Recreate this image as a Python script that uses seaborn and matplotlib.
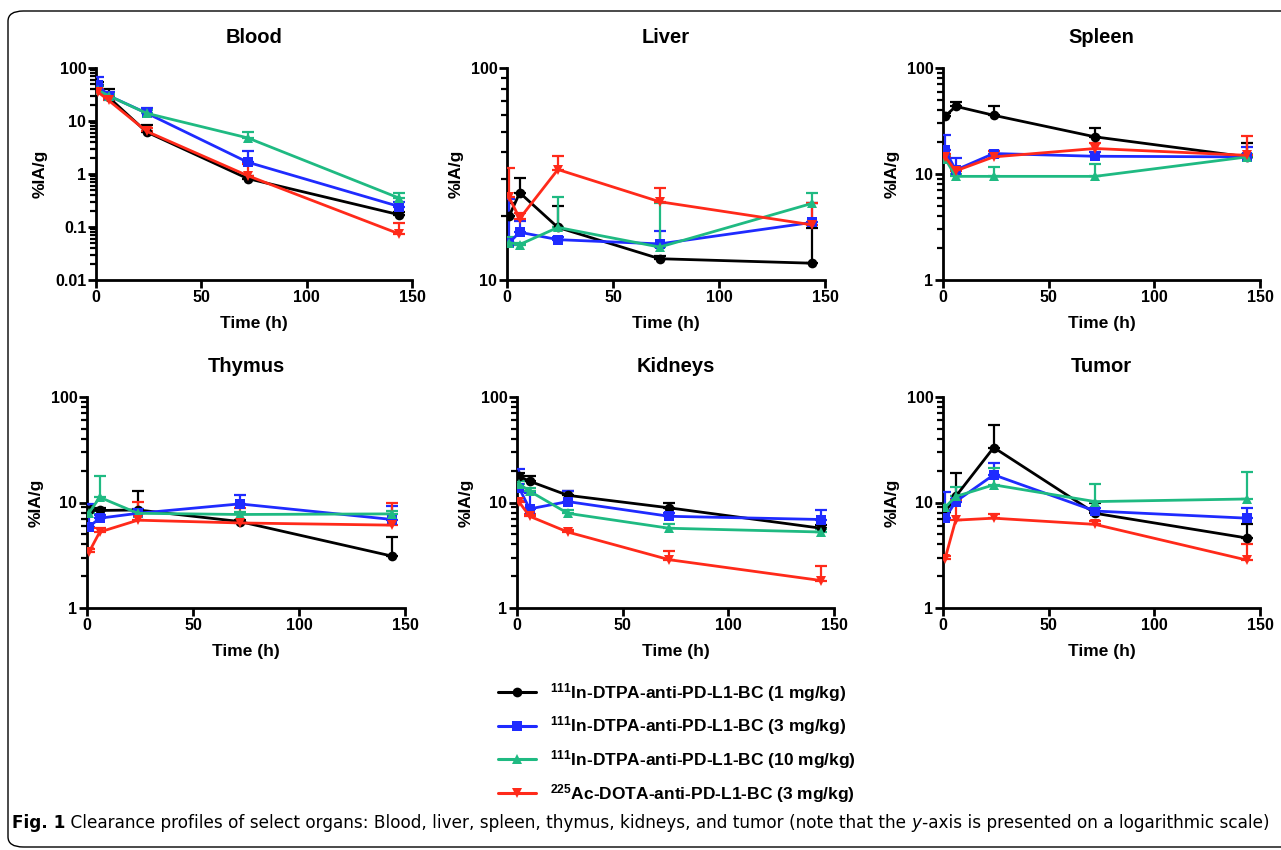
import matplotlib
matplotlib.use("Agg")
import matplotlib.pyplot as plt
import matplotlib.ticker as mticker
from matplotlib.patches import FancyBboxPatch
from matplotlib.lines import Line2D
import numpy as np
import pandas as pd
import seaborn as sns

# ---------------- data ----------------
times = [1, 6, 24, 72, 144]
series = ["1 mg/kg In", "3 mg/kg In", "10 mg/kg In", "3 mg/kg Ac"]
legend_labels = [
    r"$^{111}$In-DTPA-anti-PD-L1-BC (1 mg/kg)",
    r"$^{111}$In-DTPA-anti-PD-L1-BC (3 mg/kg)",
    r"$^{111}$In-DTPA-anti-PD-L1-BC (10 mg/kg)",
    r"$^{225}$Ac-DOTA-anti-PD-L1-BC (3 mg/kg)",
]
organs = ["Blood", "Liver", "Spleen", "Thymus", "Kidneys", "Tumor"]

# rows = series (black, blue, green, red); cols = times
blood_mean = [[47, 28, 6.2, 0.82, 0.17],
              [47, 30, 14.1, 1.67, 0.243],
              [38, 30, 14, 4.8, 0.35],
              [35, 24.5, 6.4, 0.93, 0.074]]
blood_err = [[8, 12, 2.1, 0.1, 0.02],
             [20, 5, 3.7, 1.1, 0.05],
             [7, 3, 2, 1.3, 0.09],
             [5, 2.5, 1.1, 0.63, 0.044]]

liver_mean = [[20, 25.8, 17.7, 12.6, 12.0],
              [15.0, 16.8, 15.5, 14.8, 18.7],
              [15, 14.7, 17.7, 14.3, 23],
              [24.5, 19.5, 33.2, 23.4, 18.2]]
liver_err = [[3, 4.6, 4.7, 0.4, 5.5],
             [9, 2.2, 0.5, 2.3, 4.3],
             [1, 0.3, 7, 8.7, 2.8],
             [9.4, 1.3, 5.2, 3.7, 4.8]]

spleen_mean = [[35, 43.5, 35.8, 22.4, 14.5],
               [16.8, 10.9, 15.6, 14.7, 14.5],
               [14, 9.5, 9.5, 9.5, 14.5],
               [14.5, 10.7, 14.5, 17.4, 15.0]]
spleen_err = [[3, 4, 8.2, 4.5, 4.9],
              [6.5, 3.4, 0.9, 1.5, 3.5],
              [1, 0.5, 2.2, 2.9, 1],
              [1, 0.5, 1.9, 2.4, 7.7]]

thymus_mean = [[8.4, 8.4, 8.5, 6.6, 3.1],
               [5.9, 7.1, 7.9, 9.7, 6.9],
               [8.0, 11.2, 7.9, 7.7, 7.8],
               [3.4, 5.25, 6.8, 6.4, 6.1]]
thymus_err = [[1.1, 0.5, 4.4, 0.3, 1.6],
              [3.8, 0.5, 0.8, 2.0, 2.3],
              [0.5, 6.5, 0.5, 0.4, 0.5],
              [0.2, 0.5, 3.4, 2.5, 3.9]]

kidneys_mean = [[17.7, 15.9, 11.7, 8.9, 5.7],
                [13.7, 8.7, 10.2, 7.4, 6.9],
                [15, 12.8, 7.9, 5.7, 5.25],
                [10.1, 7.4, 5.25, 2.87, 1.82]]
kidneys_err = [[1.5, 1.8, 1.2, 1.0, 0.4],
               [7.2, 3.6, 2.6, 0.6, 1.5],
               [1, 0.8, 0.6, 0.6, 0.3],
               [0.3, 0.3, 0.2, 0.58, 0.68]]

tumor_mean = [[8.2, 11.4, 33.2, 7.9, 4.6],
              [7.1, 10.2, 18.3, 8.3, 7.1],
              [9.0, 11.4, 14.7, 10.2, 10.8],
              [2.94, 6.8, 7.1, 6.2, 2.84]]
tumor_err = [[0.8, 7.5, 21.4, 1.9, 1.7],
             [5.6, 0.5, 5.2, 0.6, 1.8],
             [0.5, 2.7, 6.5, 4.7, 8.8],
             [0.2, 3.8, 0.7, 0.5, 1.16]]

blood_ticks = [0.01, 0.1, 1, 10, 100]
liver_ticks = [10, 100]
other_ticks = [1, 10, 100]
x_ticks = [0, 50, 100, 150]

caption_bold = "Fig. 1"
caption_text = (" Clearance profiles of select organs: Blood, liver, spleen, thymus, kidneys, "
                "and tumor (note that the ")
caption_italic = "y"
caption_end = "-axis is presented on a logarithmic scale)"

# ---------------- style ----------------
sns.set_style("ticks")
plt.rcParams["font.family"] = ["Liberation Sans", "DejaVu Sans"]
plt.rcParams["mathtext.default"] = "bf"
plt.rcParams["mathtext.fontset"] = "custom"
plt.rcParams["mathtext.bf"] = "Liberation Sans:bold"
plt.rcParams["font.weight"] = "bold"
for key in ["text.color", "axes.labelcolor", "xtick.color", "ytick.color", "axes.edgecolor"]:
    plt.rcParams[key] = "black"

colors = ["#000000", "#1f2bff", "#1fba82", "#ff2a1a"]
markers = ["o", "s", "^", "v"]
palette = dict(zip(series, colors))
marker_map = dict(zip(series, markers))

W, H = 1281, 850
fig = plt.figure(figsize=(W / 100, H / 100), dpi=100)

# axes boxes in pixels: left, right, top, bottom
boxes = [(96, 412, 68, 280), (507, 825, 68, 280), (943, 1260, 68, 280),
         (87, 405, 397, 608), (517, 834, 397, 608), (943, 1260, 397, 608)]
means = [blood_mean, liver_mean, spleen_mean, thymus_mean, kidneys_mean, tumor_mean]
errs = [blood_err, liver_err, spleen_err, thymus_err, kidneys_err, tumor_err]
yticks = [blood_ticks, liver_ticks, other_ticks, other_ticks, other_ticks, other_ticks]

for organ, box, mean, err, yt in zip(organs, boxes, means, errs, yticks):
    l, r, t, b = box
    ax = fig.add_axes([l / W, 1 - b / H, (r - l) / W, (b - t) / H])
    rows = []
    for si, s in enumerate(series):
        for ti, tt in enumerate(times):
            rows.append({"time": tt, "value": mean[si][ti], "err": err[si][ti], "series": s})
    df = pd.DataFrame(rows)
    # error bars (upper only)
    for si, s in enumerate(series):
        sub = df[df["series"] == s]
        ax.errorbar(sub["time"], sub["value"],
                    yerr=[np.zeros(len(sub)), sub["err"].values],
                    fmt="none", ecolor=colors[si], elinewidth=1.6, capsize=4.5,
                    capthick=1.6, zorder=2 + si)
    sns.lineplot(data=df, x="time", y="value", hue="series", style="series",
                 palette=palette, markers=marker_map, dashes=False,
                 markersize=7, linewidth=2.0, markeredgewidth=0,
                 legend=False, ax=ax, sort=False, zorder=6)
    ax.set_yscale("log")
    ax.set_ylim(yt[0], yt[-1])
    ax.set_xlim(0, 150)
    ax.set_yticks(yt)
    ax.set_yticklabels([("%g" % v) for v in yt])
    ax.yaxis.set_minor_locator(mticker.LogLocator(base=10, subs=np.arange(2, 10)))
    ax.yaxis.set_minor_formatter(mticker.NullFormatter())
    ax.set_xticks(x_ticks)
    ax.set_xticklabels([str(v) for v in x_ticks])
    for sp in ["top", "right"]:
        ax.spines[sp].set_visible(False)
    for sp in ["left", "bottom"]:
        ax.spines[sp].set_linewidth(2.0)
    ax.tick_params(axis="both", which="major", width=2.0, length=6, labelsize=11.5,
                   direction="out", pad=1)
    ax.tick_params(axis="y", which="minor", width=1.6, length=4)
    for lab in ax.get_xticklabels() + ax.get_yticklabels():
        lab.set_fontweight("bold")
    ax.set_xlabel("Time (h)", fontsize=12.5, fontweight="bold", labelpad=8)
    ax.set_ylabel("%IA/g", fontsize=12.5, fontweight="bold", labelpad=5)
    ax.set_title(organ, fontsize=14.5, fontweight="bold", pad=18)

# legend
handles = [Line2D([0], [0], color=c, marker=m, markersize=7, linewidth=2.2,
                  markeredgewidth=0) for c, m in zip(colors, markers)]
fig.legend(handles, legend_labels, loc="upper left",
           bbox_to_anchor=(482 / W, 1 - 665 / H), frameon=False,
           prop={"weight": "bold", "size": 12.5}, handlelength=2.2,
           labelspacing=0.62, handletextpad=0.8)

# rounded border
border = FancyBboxPatch((8 / W, 3 / H), (W + 40) / W, (H - 14) / H,
                        boxstyle="round,pad=0,rounding_size=0.012",
                        transform=fig.transFigure, fill=False,
                        edgecolor="black", linewidth=1.0, clip_on=False)
fig.patches.append(border)

# caption
cap_family = ["Liberation Sans Narrow", "DejaVu Sans"]
cap_y = 1 - 823 / H
t1 = fig.text(12 / W, cap_y, caption_bold, fontsize=12.2, fontweight="bold",
              family=cap_family, va="center", ha="left")
fig.canvas.draw()
bb = t1.get_window_extent()
t2 = fig.text(bb.x1 / W, cap_y, caption_text, fontsize=12.2, fontweight="normal",
              family=cap_family, va="center", ha="left")
fig.canvas.draw()
bb = t2.get_window_extent()
t3 = fig.text(bb.x1 / W, cap_y, caption_italic, fontsize=12.2, fontweight="normal",
              style="italic", family=cap_family, va="center", ha="left")
fig.canvas.draw()
bb = t3.get_window_extent()
fig.text(bb.x1 / W, cap_y, caption_end, fontsize=12.2, fontweight="normal",
         family=cap_family, va="center", ha="left")

fig.savefig("out.png", dpi=100)
